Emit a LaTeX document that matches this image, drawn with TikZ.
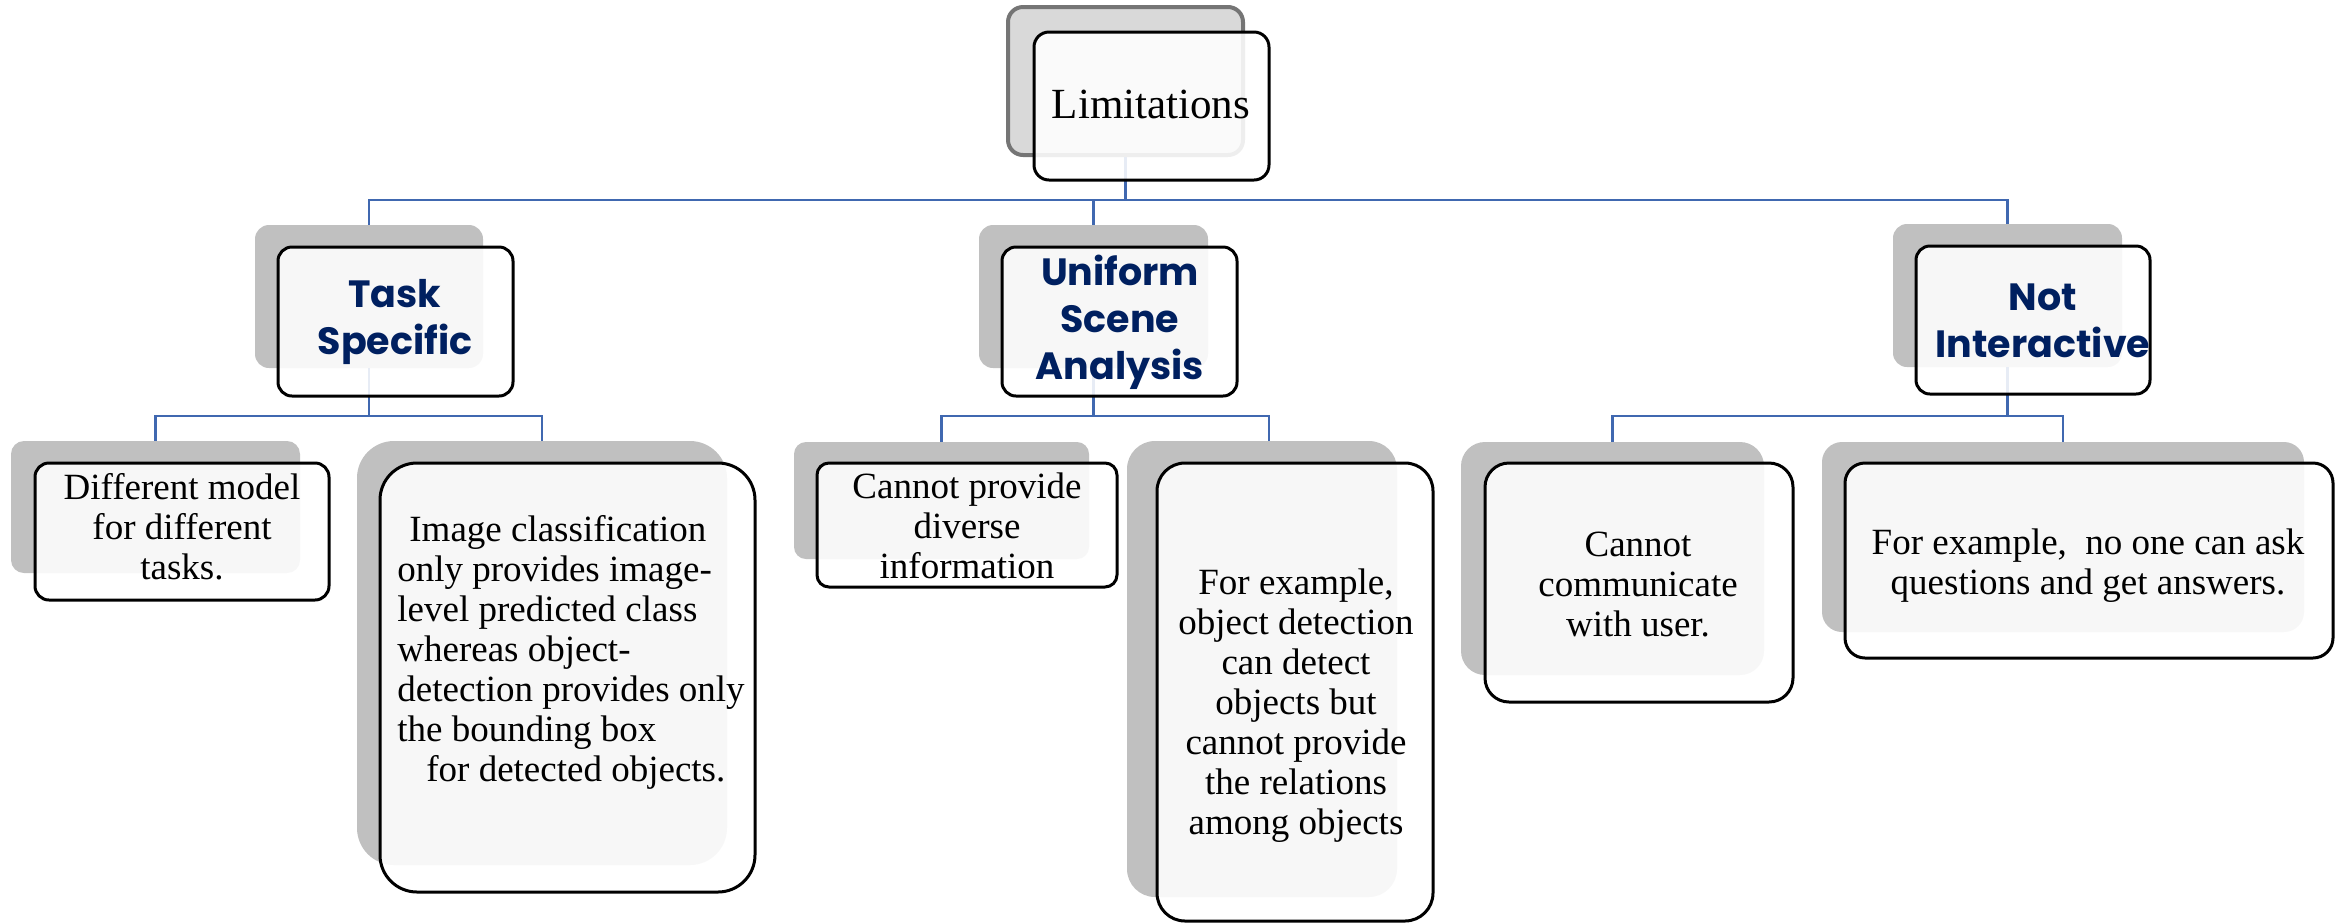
\documentclass[tikz,border=0pt]{standalone}
\usepackage{fontspec}
\setmainfont{Liberation Serif}
\newfontfamily\headfont{Poppins}
\usetikzlibrary{fit}

\definecolor{linkblue}{HTML}{4068B0}
\definecolor{navy}{HTML}{002060}
\definecolor{shade}{HTML}{C0C0C0}
\definecolor{rootshade}{HTML}{D9D9D9}
\definecolor{rootedge}{HTML}{757575}

\tikzset{
  backbox/.style={fill=shade, draw=none, inner sep=0pt, rounded corners=#1},
  backbox/.default=7pt,
  rootback/.style={fill=rootshade, draw=rootedge, line width=2pt, inner sep=0pt, rounded corners=7.5pt},
  frontbox/.style={fill=white, fill opacity=0.88, draw=black, line width=1.5pt, inner sep=0pt, rounded corners=#1},
  frontbox/.default=7pt,
  link/.style={draw=linkblue, line width=1.3pt},
  roottext/.style={font=\fontsize{21.5}{24}\selectfont, inner sep=0pt},
  headtext/.style={font=\headfont\bfseries\fontsize{19}{23.5}\selectfont, text=navy, align=center, inner sep=0pt},
  leaftext/.style={font=\fontsize{18.5}{20}\selectfont, align=center, inner sep=0pt},
}

\begin{document}
\begin{tikzpicture}[x=0.5pt, y=-0.5pt]
\useasboundingbox (0,0) rectangle (2341,923);

% shaded back plates
\node[rootback, fit={(1008,7) (1243,155)}] (rootB) {};
\node[backbox, fit={(255,225) (483,368)}] (tsB) {};
\node[backbox, fit={(979,225) (1208,368)}] (usB) {};
\node[backbox, fit={(1893,224) (2122,367)}] (niB) {};
\node[backbox=6.5pt, fit={(11,441) (300,573)}] (l1B) {};
\node[backbox=18.5pt, fit={(357,441) (727,865)}] (l2B) {};
\node[backbox=6pt, fit={(794,442) (1089,559)}] (l3B) {};
\node[backbox=14pt, fit={(1127,441) (1397,897)}] (l4B) {};
\node[backbox=12pt, fit={(1461,442) (1764,675)}] (l5B) {};
\node[backbox=10pt, fit={(1822,442) (2304,632)}] (l6B) {};

% connector buses
\coordinate (bus1) at (0,200);
\coordinate (bus2) at (0,416);

\draw[link] (rootB.south) -- (rootB.south |- bus1) -| (tsB.north);
\draw[link] (rootB.south) -- (rootB.south |- bus1) -| (usB.north);
\draw[link] (rootB.south) -- (rootB.south |- bus1) -| (niB.north);

\draw[link] (tsB.south) -- (tsB.south |- bus2) -| (l1B.north);
\draw[link] (tsB.south) -- (tsB.south |- bus2) -| (l2B.north);
\draw[link] (usB.south) -- (usB.south |- bus2) -| (l3B.north);
\draw[link] (usB.south) -- (usB.south |- bus2) -| ([xshift=3.5pt]l4B.north);
\draw[link] (niB.south) -- (niB.south |- bus2) -| (l5B.north);
\draw[link] (niB.south) -- (niB.south |- bus2) -| (l6B.north);

% outlined front panels
\node[frontbox=7.5pt, fit={(1034,32) (1269,180)}] (rootF) {};
\node[frontbox, fit={(278,247) (513,396)}] (tsF) {};
\node[frontbox, fit={(1002,247) (1237,396)}] (usF) {};
\node[frontbox, fit={(1916,246) (2150,394)}] (niF) {};
\node[frontbox=7pt, fit={(35,463) (329,600)}] (l1F) {};
\node[frontbox=18.5pt, fit={(380,463) (755,892)}] (l2F) {};
\node[frontbox=6pt, fit={(817,463) (1117,587)}] (l3F) {};
\node[frontbox=14pt, fit={(1157,463) (1433,921)}] (l4F) {};
\node[frontbox=12pt, fit={(1485,463) (1793,702)}] (l5F) {};
\node[frontbox=10pt, fit={(1845,463) (2333,658)}] (l6F) {};

% labels
\node[roottext] (rootT) at (1151,104) {Limitations};
\node[headtext] (tsT) at (395,322) {Task\\Specific};
\node[headtext] (usT) at (1120,322) {Uniform\\Scene\\Analysis};
\node[headtext] (niT) at (2043,321) {Not\\Interactive};

\node[leaftext] (l1T) at (182,527) {Different model\\for different\\tasks.};
\node[leaftext, align=left, anchor=west] (l2T) at (397,652)
  {\hspace{6pt}Image classification\\only provides image-\\level predicted class\\whereas object-\\detection provides only\\the bounding box\\\hspace{14.5pt}for detected objects.};
\node[leaftext] (l3T) at (967,526) {Cannot provide\\diverse\\information};
\node[leaftext] (l4T) at (1296,706) {For example,\\object detection\\can detect\\objects but\\cannot provide\\the relations\\among objects};
\node[leaftext] (l5T) at (1638,584) {Cannot\\communicate\\with user.};
\node[leaftext] (l6T) at (2088,566) {For example,\ \ no one can ask\\questions and get answers.};
\end{tikzpicture}
\end{document}
